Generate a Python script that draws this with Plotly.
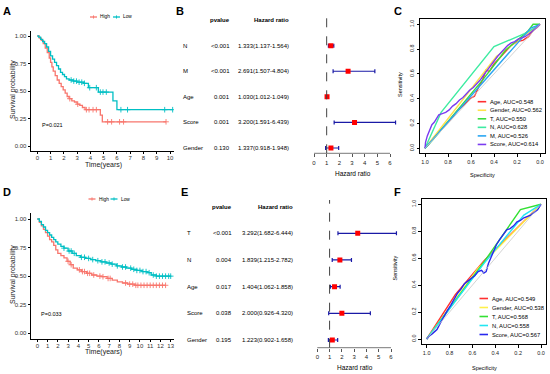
import numpy as np
import plotly.graph_objects as go

W, H = 550, 374
FONT = "Liberation Sans, Arial, sans-serif"

# ---------------- DATA ----------------
km_groups = ["High", "Low"]
km_colors = ["#F8766D", "#00BFC4"]

# Panel A (Kaplan-Meier, training set)
A_high_t = [0, 0.15, 0.3, 0.45, 0.6, 0.75, 0.9, 1.0, 1.1, 1.2, 1.35, 1.5, 1.65, 1.8, 1.95, 2.1, 2.25, 2.4, 2.6, 2.8, 3.0, 3.2, 3.4, 3.6, 4.75, 4.9, 9.7]
A_high_s = [1.0, 0.98, 0.96, 0.93, 0.89, 0.85, 0.80, 0.76, 0.72, 0.68, 0.64, 0.60, 0.57, 0.54, 0.51, 0.48, 0.45, 0.43, 0.41, 0.40, 0.38, 0.37, 0.35, 0.33, 0.28, 0.22, 0.22]
A_high_cens = [2.45, 3.05, 3.7, 3.9, 4.2, 4.45, 5.3, 5.6, 6.2, 6.5, 9.7]
A_low_t = [0, 0.1, 0.25, 0.4, 0.55, 0.7, 0.85, 1.0, 1.15, 1.3, 1.45, 1.6, 1.75, 1.9, 2.05, 2.2, 2.4, 2.7, 3.0, 3.5, 3.85, 4.6, 5.7, 6.0, 10.2]
A_low_s = [1.0, 0.99, 0.97, 0.95, 0.93, 0.90, 0.86, 0.82, 0.79, 0.76, 0.73, 0.70, 0.67, 0.65, 0.63, 0.61, 0.60, 0.59, 0.58, 0.57, 0.53, 0.49, 0.41, 0.33, 0.33]
A_low_cens = [2.55, 2.75, 2.95, 3.15, 3.35, 3.55, 3.95, 4.45, 4.75, 4.95, 5.2, 6.3, 6.8, 9.6, 10.2]
A_pval = "P=0.021"

# Panel D (Kaplan-Meier, validation set)
D_high_t = [0, 0.2, 0.4, 0.6, 0.8, 1.0, 1.2, 1.4, 1.6, 1.8, 2.0, 2.3, 2.6, 2.9, 3.2, 3.5, 3.9, 4.3, 4.8, 5.3, 5.8, 6.3, 6.8, 7.3, 7.8, 8.3, 8.8, 9.5, 12.5]
D_high_s = [1.0, 0.97, 0.94, 0.91, 0.88, 0.85, 0.82, 0.80, 0.77, 0.73, 0.70, 0.68, 0.66, 0.63, 0.60, 0.57, 0.555, 0.54, 0.525, 0.51, 0.50, 0.495, 0.48, 0.465, 0.45, 0.44, 0.43, 0.42, 0.42]
D_high_cens = [3.0, 3.3, 4.1, 4.4, 4.6, 4.9, 5.1, 5.5, 6.1, 6.4, 6.9, 7.1, 8.6, 9.0, 9.3, 9.6, 9.8, 10.1, 10.4, 10.7, 11.0, 11.3, 11.6, 11.9, 12.2, 12.5]
D_low_t = [0, 0.2, 0.4, 0.6, 0.8, 1.0, 1.2, 1.4, 1.6, 1.8, 2.0, 2.3, 2.6, 3.0, 3.4, 3.8, 4.2, 4.7, 5.2, 5.7, 6.2, 6.7, 7.2, 7.7, 8.2, 8.7, 9.2, 9.7, 10.2, 10.7, 11.1, 11.6, 13.0]
D_low_s = [1.0, 0.98, 0.95, 0.93, 0.90, 0.88, 0.86, 0.84, 0.82, 0.80, 0.78, 0.76, 0.745, 0.72, 0.70, 0.68, 0.665, 0.655, 0.645, 0.635, 0.625, 0.615, 0.605, 0.59, 0.58, 0.57, 0.56, 0.55, 0.54, 0.53, 0.51, 0.50, 0.50]
D_low_cens = [2.6, 3.1, 3.3, 3.6, 4.3, 4.6, 5.0, 5.4, 5.9, 6.3, 6.6, 7.0, 7.3, 7.8, 8.3, 8.6, 9.1, 9.4, 9.7, 10.0, 10.3, 10.6, 10.9, 11.3, 11.6, 11.9, 12.2, 12.5, 12.8, 13.0]
D_pval = "P=0.033"

km_yticks = [0, 0.25, 0.5, 0.75, 1.0]
km_yticktext = ["0.00", "0.25", "0.50", "0.75", "1.00"]
A_xticks = list(range(0, 11))
D_xticks = list(range(0, 14))

# Panel B (forest, training)
B_vars = ["N", "M", "Age", "Score", "Gender"]
B_pvals = ["<0.001", "<0.001", "0.001", "0.001", "0.130"]
B_hr = [1.333, 2.691, 1.030, 3.200, 1.337]
B_lo = [1.137, 1.507, 1.012, 1.591, 0.918]
B_hi = [1.564, 4.804, 1.049, 6.439, 1.948]

# Panel E (forest, validation)
E_vars = ["T", "N", "Age", "Score", "Gender"]
E_pvals = ["<0.001", "0.004", "0.017", "0.038", "0.195"]
E_hr = [3.292, 1.839, 1.404, 2.000, 1.223]
E_lo = [1.682, 1.215, 1.062, 0.926, 0.902]
E_hi = [6.444, 2.782, 1.858, 4.320, 1.658]
forest_ticks = [0, 1, 2, 3, 4, 5, 6]

# Panel C (ROC, training)
C_names = ["Age", "Gender", "T", "N", "M", "Score"]
C_auc = [0.548, 0.562, 0.550, 0.628, 0.526, 0.614]
C_colors = ["#FF3030", "#FFE24A", "#3CDC3C", "#3EEBA2", "#2AA6F2", "#7B3CF0"]
C_spec = [
    [1.0, 0.97, 0.93, 0.88, 0.83, 0.78, 0.72, 0.66, 0.61, 0.57, 0.53, 0.50, 0.47, 0.44, 0.40, 0.35, 0.30, 0.25, 0.20, 0.15, 0.10, 0.06, 0.03, 0.0],
    [1.0, 0.38, 0.0],
    [1.0, 0.93, 0.85, 0.75, 0.62, 0.5, 0.4, 0.3, 0.2, 0.1, 0.06, 0.0],
    [1.0, 0.86, 0.40, 0.12, 0.0],
    [1.0, 0.08, 0.0],
    [1.0, 0.995, 0.98, 0.96, 0.94, 0.92, 0.90, 0.88, 0.85, 0.82, 0.79, 0.76, 0.73, 0.70, 0.67, 0.64, 0.61, 0.58, 0.55, 0.52, 0.49, 0.46, 0.43, 0.40, 0.37, 0.34, 0.31, 0.28, 0.25, 0.22, 0.19, 0.16, 0.13, 0.10, 0.07, 0.04, 0.02, 0.0],
]
C_sens = [
    [0.0, 0.03, 0.08, 0.13, 0.18, 0.23, 0.30, 0.35, 0.40, 0.42, 0.50, 0.55, 0.63, 0.62, 0.68, 0.73, 0.78, 0.83, 0.86, 0.87, 0.90, 0.95, 0.97, 1.0],
    [0.0, 0.74, 1.0],
    [0.0, 0.07, 0.16, 0.27, 0.41, 0.55, 0.67, 0.79, 0.87, 0.95, 1.0, 1.0],
    [0.0, 0.29, 0.82, 0.93, 1.0],
    [0.0, 0.97, 1.0],
    [0.0, 0.05, 0.10, 0.15, 0.19, 0.21, 0.24, 0.27, 0.28, 0.29, 0.31, 0.34, 0.36, 0.39, 0.41, 0.44, 0.47, 0.49, 0.52, 0.55, 0.59, 0.63, 0.67, 0.71, 0.74, 0.77, 0.80, 0.83, 0.85, 0.86, 0.88, 0.89, 0.90, 0.92, 0.94, 0.96, 0.98, 1.0],
]

# Panel F (ROC, validation)
F_names = ["Age", "Gender", "T", "N", "Score"]
F_auc = [0.549, 0.538, 0.568, 0.558, 0.567]
F_colors = ["#FF3030", "#FFF04A", "#33E033", "#22E6F2", "#2828EE"]
F_spec = [
    [1.0, 0.75, 0.5, 0.0],
    [1.0, 0.55, 0.0],
    [1.0, 0.5, 0.18, 0.0],
    [1.0, 0.5, 0.15, 0.0],
    [1.0, 0.98, 0.95, 0.91, 0.88, 0.85, 0.82, 0.79, 0.76, 0.73, 0.70, 0.67, 0.64, 0.61, 0.58, 0.55, 0.52, 0.50, 0.48, 0.46, 0.44, 0.42, 0.39, 0.36, 0.33, 0.30, 0.27, 0.24, 0.21, 0.18, 0.15, 0.12, 0.09, 0.06, 0.03, 0.0],
]
F_sens = [
    [0.0, 0.33, 0.58, 1.0],
    [0.0, 0.526, 1.0],
    [0.0, 0.57, 0.96, 1.0],
    [0.0, 0.56, 0.92, 1.0],
    [0.0, 0.02, 0.04, 0.07, 0.12, 0.17, 0.21, 0.25, 0.30, 0.34, 0.37, 0.41, 0.43, 0.45, 0.47, 0.50, 0.51, 0.49, 0.50, 0.56, 0.60, 0.65, 0.70, 0.74, 0.78, 0.81, 0.82, 0.84, 0.87, 0.88, 0.90, 0.91, 0.92, 0.94, 0.96, 1.0],
]
roc_ticks = [0, 0.2, 0.4, 0.6, 0.8, 1.0]
roc_ticktext = ["0.0", "0.2", "0.4", "0.6", "0.8", "1.0"]

# ---------------- helpers ----------------
def px(p):
    return p / W

def py(p):
    return 1 - p / H

def dx(a, b):
    return [a / W, b / W]

def dy(top, bottom):
    return [1 - bottom / H, 1 - top / H]

def rng(p0, p1, v0, v1, d0, d1):
    s = (v1 - v0) / (p1 - p0)
    return [v0 + (d0 - p0) * s, v0 + (d1 - p0) * s]

def step_at(ts, ss, t):
    i = np.searchsorted(np.array(ts), t, side="right") - 1
    return ss[max(i, 0)]

fig = go.Figure()
shapes = []
ann = []

def text(x, y, s, size=6, anchor="center", bold=False, angle=0, color="black", xref="paper", yref="paper", yanchor="middle"):
    ann.append(dict(x=x, y=y, xref=xref, yref=yref, text=("<b>%s</b>" % s) if bold else s,
                    showarrow=False, xanchor=anchor, yanchor=yanchor, textangle=angle,
                    font=dict(size=size, color=color, family=FONT), borderpad=0))

# ---------------- KM panels ----------------
def km_panel(xa, ya, curves, pval, ptxt_xy):
    for (t, s, cens), col, name in zip(curves, km_colors, km_groups):
        fig.add_trace(go.Scatter(x=t, y=s, mode="lines", line=dict(color=col, width=1.3, shape="hv"),
                                 xaxis=xa, yaxis=ya, showlegend=False, name=name))
        fig.add_trace(go.Scatter(x=cens, y=[step_at(t, s, c) for c in cens], mode="markers",
                                 marker=dict(symbol="cross-thin-open", size=4, color=col, line=dict(color=col, width=0.9)),
                                 xaxis=xa, yaxis=ya, showlegend=False))
    text(ptxt_xy[0], ptxt_xy[1], pval, size=5.5, anchor="left",
         xref=xa, yref=ya)

km_panel("x", "y", [(A_high_t, A_high_s, A_high_cens), (A_low_t, A_low_s, A_low_cens)], A_pval, (0.3, 0.19))
km_panel("x4", "y4", [(D_high_t, D_high_s, D_high_cens), (D_low_t, D_low_s, D_low_cens)], D_pval, (0.25, 0.17))

def km_legend(y, x0s):
    for name, col, x0 in zip(km_groups, km_colors, x0s):
        shapes.append(dict(type="line", xref="paper", yref="paper", x0=px(x0), x1=px(x0 + 7), y0=py(y), y1=py(y),
                           line=dict(color=col, width=1.3)))
        shapes.append(dict(type="line", xref="paper", yref="paper", x0=px(x0 + 3.5), x1=px(x0 + 3.5), y0=py(y - 1.6), y1=py(y + 1.6),
                           line=dict(color=col, width=0.9)))
        text(px(x0 + 9), py(y), name, size=4.8, anchor="left")

km_legend(17, [90, 113])
km_legend(199, [88.5, 110.5])

# ---------------- Forest panels ----------------
def forest(xa, ya, vars_, pvals, hr, lo, hi, name_x, p_x, hr_x, head_y):
    n = len(vars_)
    ys = [n - i for i in range(n)]
    fig.add_trace(go.Scatter(x=hr, y=ys, mode="markers",
                             marker=dict(symbol="square", size=5, color="#FF0000"),
                             error_x=dict(type="data", symmetric=False,
                                          array=[h - m for h, m in zip(hi, hr)],
                                          arrayminus=[m - l for m, l in zip(hr, lo)],
                                          color="#1A1AA6", thickness=1.2, width=2),
                             xaxis=xa, yaxis=ya, showlegend=False))
    for v, p, h, l, u, yy in zip(vars_, pvals, hr, lo, hi, ys):
        text(px(name_x), yy, v, size=6, anchor="left", yref=ya)
        text(px(p_x), yy, p, size=6, anchor="right", yref=ya)
        text(px(hr_x), yy, "%.3f(%.3f-%.3f)" % (h, l, u), size=6, anchor="right", yref=ya)
    text(px(p_x), py(head_y), "pvalue", size=6, anchor="right", bold=True)
    text(px(hr_x), py(head_y), "Hazard ratio", size=6, anchor="right", bold=True)
    shapes.append(dict(type="line", xref=xa, yref=ya + " domain", x0=1, x1=1, y0=0, y1=1,
                       line=dict(color="#444", width=1, dash="dash")))
    shapes.append(dict(type="line", xref=xa, yref=ya + " domain", x0=forest_ticks[0], x1=forest_ticks[-1], y0=0, y1=0,
                       line=dict(color="#555", width=0.8)))

forest("x2", "y2", B_vars, B_pvals, B_hr, B_lo, B_hi, 181.5, 231, 290, 20)
forest("x5", "y5", E_vars, E_pvals, E_hr, E_lo, E_hi, 186, 233, 293.5, 206.5)

# ---------------- ROC panels ----------------
def roc(xa, ya, names, aucs, cols, specs, senss, leg_x, leg_y0, leg_dy):
    shapes.append(dict(type="line", xref=xa, yref=ya, x0=1, y0=0, x1=0, y1=1, line=dict(color="#C8C8C8", width=0.8)))
    for nm, a, c, sp, se in zip(names, aucs, cols, specs, senss):
        fig.add_trace(go.Scatter(x=sp, y=se, mode="lines", line=dict(color=c, width=1.4),
                                 xaxis=xa, yaxis=ya, showlegend=False, name=nm))
    for i, (nm, a, c) in enumerate(zip(names, aucs, cols)):
        yy = leg_y0 + i * leg_dy
        shapes.append(dict(type="line", xref="paper", yref="paper", x0=px(leg_x), x1=px(leg_x + 8.5),
                           y0=py(yy), y1=py(yy), line=dict(color=c, width=1.6)))
        text(px(leg_x + 11.5), py(yy), "%s, AUC=%.3f" % (nm, a), size=5.8, anchor="left")

roc("x3", "y3", C_names, C_auc, C_colors, C_spec, C_sens, 477.7, 101.7, 8.55)
roc("x6", "y6", F_names, F_auc, F_colors, F_spec, F_sens, 479.5, 298.5, 9.0)

# ---------------- titles & labels ----------------
for lab, x, y in [("A", 7, 11), ("B", 179.5, 11), ("C", 397.7, 11), ("D", 7, 192), ("E", 184, 192), ("F", 397.7, 191.7)]:
    text(px(x), py(y), lab, size=11, bold=True)

text(px(13), py(90), "Survival probability", size=7, angle=-90, color="#222")
text(px(103), py(164.5), "Time(years)", size=7, color="#222")
text(px(13), py(275), "Survival probability", size=7, angle=-90, color="#222")
text(px(103), py(351.5), "Time(years)", size=7, color="#222")
text(px(353), py(173), "Hazard ratio", size=6.5)
text(px(355), py(367.5), "Hazard ratio", size=6.5)
text(px(482), py(175), "Specificity", size=5.5)
text(px(400), py(85), "Sensitivity", size=5.5, angle=-90)
text(px(484), py(367.5), "Specificity", size=5.5)
text(px(394.5), py(268), "Sensitivity", size=5.5, angle=-90)

# ---------------- axes ----------------
km_ax = dict(showline=True, linecolor="black", linewidth=0.8, ticks="outside", ticklen=2.5, tickwidth=0.8,
             tickcolor="black", showgrid=False, zeroline=False, tickfont=dict(size=6, color="#333", family=FONT))
roc_ax = dict(showline=True, mirror=True, linecolor="black", linewidth=0.8, ticks="outside", ticklen=3, tickwidth=0.8,
              tickcolor="black", showgrid=False, zeroline=False, tickvals=roc_ticks, ticktext=roc_ticktext,
              tickfont=dict(size=5.5, color="#222", family=FONT))
forest_xax = dict(showline=False, ticks="outside", ticklen=3, tickwidth=0.8, tickcolor="#555", showgrid=False,
                  zeroline=False, tickvals=forest_ticks, tickfont=dict(size=6, color="#222", family=FONT))
forest_yax = dict(visible=False, showgrid=False, zeroline=False)

layout = dict(
    width=W, height=H, margin=dict(l=0, r=0, t=0, b=0), plot_bgcolor="white", paper_bgcolor="white",
    font=dict(family=FONT), showlegend=False,
    xaxis=dict(km_ax, domain=dx(31, 174), range=rng(37.3, 170, 0, 10, 31, 174), tickvals=A_xticks, anchor="y", ticklabelstandoff=-2),
    yaxis=dict(km_ax, domain=dy(31, 151), range=rng(146, 36, 0, 1, 151, 31), tickvals=km_yticks, ticktext=km_yticktext, anchor="x"),
    xaxis4=dict(km_ax, domain=dx(31, 174), range=rng(37.3, 170.7, 0, 13, 31, 174), tickvals=D_xticks, anchor="y4", ticklabelstandoff=-2),
    yaxis4=dict(km_ax, domain=dy(213, 339), range=rng(333.3, 219, 0, 1, 339, 213), tickvals=km_yticks, ticktext=km_yticktext, anchor="x4"),
    xaxis2=dict(forest_xax, domain=dx(305, 402), range=rng(314, 390, 0, 6, 305, 402), anchor="y2"),
    yaxis2=dict(forest_yax, domain=dy(15, 153.3), range=rng(148, 45.7, 1, 5, 153.3, 15), anchor="x2"),
    xaxis5=dict(forest_xax, domain=dx(305, 402), range=rng(317.3, 391, 0, 6, 305, 402), anchor="y5"),
    yaxis5=dict(forest_yax, domain=dy(200, 347.7), range=rng(340, 233.3, 1, 5, 347.7, 200), anchor="x5"),
    xaxis3=dict(roc_ax, domain=dx(420.4, 544.6), range=rng(425, 540, 1, 0, 420.4, 544.6), anchor="y3"),
    yaxis3=dict(roc_ax, domain=dy(19.3, 153.3), range=rng(148.3, 24.3, 0, 1, 153.3, 19.3), tickangle=-90, anchor="x3"),
    xaxis6=dict(roc_ax, domain=dx(422, 545.7), range=rng(426.7, 541, 1, 0, 422, 545.7), anchor="y6"),
    yaxis6=dict(roc_ax, domain=dy(198.9, 344.4), range=rng(339, 204.3, 0, 1, 344.4, 198.9), tickangle=-90, anchor="x6"),
    shapes=shapes, annotations=ann,
)
fig.update_layout(**layout)
fig.write_html("out.html", config={"displayModeBar": False},
               post_script="document.body.style.margin='0';document.body.style.overflow='hidden';")
